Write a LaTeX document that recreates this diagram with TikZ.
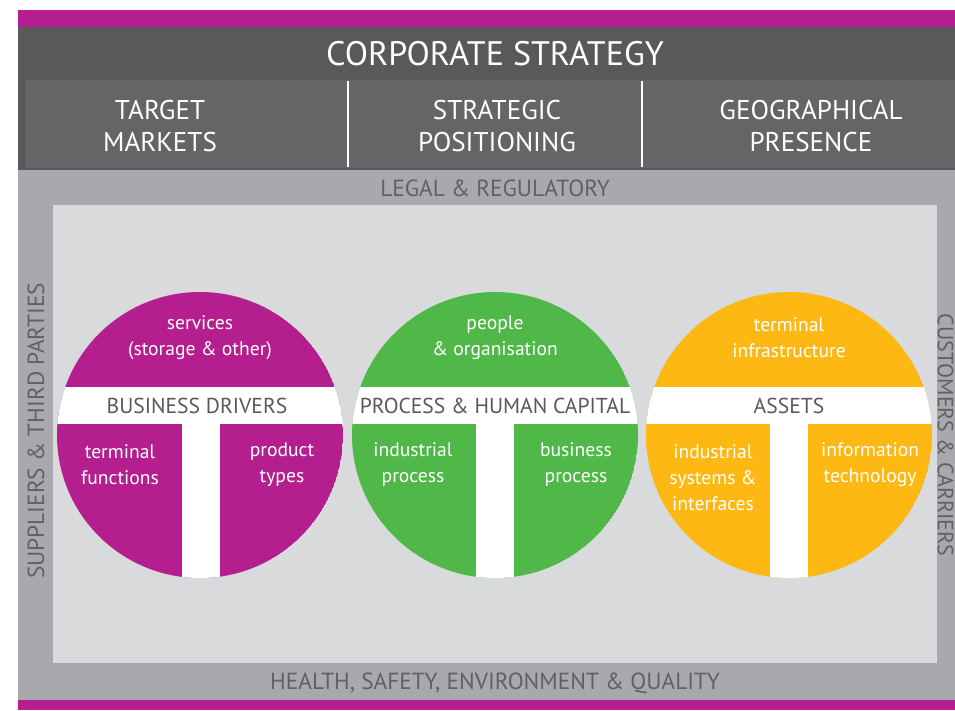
\documentclass[tikz,border=0pt]{standalone}
\usepackage{fontspec}
\setmainfont{PT Sans}
\newfontfamily\headfont{PT Sans}

\definecolor{barmagenta}{RGB}{180,30,142}
\definecolor{headdark}{RGB}{88,89,91}
\definecolor{headmid}{RGB}{100,101,103}
\definecolor{framegray}{RGB}{167,169,172}
\definecolor{panelgray}{RGB}{217,218,220}
\definecolor{labelgray}{RGB}{96,97,100}
\definecolor{drivers}{RGB}{180,30,142}
\definecolor{capital}{RGB}{80,184,72}
\definecolor{assets}{RGB}{253,184,19}

\tikzset{
	headtext/.style={text=white,inner sep=0pt,align=center,font=\headfont\fontsize{20.3}{23.5}\selectfont},
	sidetext/.style={text=labelgray,inner sep=0pt,font=\headfont\fontsize{17.5}{19}\selectfont},
	bandtext/.style={text=headdark,inner sep=0pt,font=\fontsize{16.2}{18}\selectfont},
	intext/.style={text=white,inner sep=0pt,align=center,font=\fontsize{14.7}{19.5}\selectfont}
}

\begin{document}
\begin{tikzpicture}[x=0.75pt,y=0.75pt,yscale=-1,xscale=1]
	\useasboundingbox (0,0) rectangle (955,710);
	\fill [white] (0,0) rectangle (955,710);
	% header
	\fill [barmagenta] (18,10) rectangle (955,27);
	\fill [headdark] (18,27) rectangle (955,170);
	\fill [headmid] (26,80) rectangle (955,168);
	\draw [white,line width=1.2pt] (348,81) -- (348,167);
	\draw [white,line width=1.2pt] (642,81) -- (642,167);
	% frame and panel
	\fill [framegray] (18,170) rectangle (955,700);
	\fill [panelgray] (53,205) rectangle (937,663);
	\fill [barmagenta] (18,700) rectangle (955,710);
	% circles
	\begin{scope}
		\clip (200,435) circle (143);
		\fill [drivers] (200,435) circle (143);
		\fill [white] (50,387) rectangle (350,424);
		\fill [white] (182,424) rectangle (220,590);
	\end{scope}
	\begin{scope}
		\clip (495,435) circle (143);
		\fill [capital] (495,435) circle (143);
		\fill [white] (345,387) rectangle (645,424);
		\fill [white] (476,424) rectangle (514,590);
	\end{scope}
	\begin{scope}
		\clip (789,435) circle (143);
		\fill [assets] (789,435) circle (143);
		\fill [white] (639,387) rectangle (939,424);
		\fill [white] (770,424) rectangle (808,590);
	\end{scope}
	% texts
	\node [headtext,font=\headfont\fontsize{25.5}{28}\selectfont] (strategy) at (495,54) {CORPORATE STRATEGY};
	\node [headtext] (markets) at (160,126) {TARGET\\MARKETS};
	\node [headtext] (positioning) at (497,126) {STRATEGIC\\POSITIONING};
	\node [headtext] (presence) at (811,126) {GEOGRAPHICAL\\PRESENCE};
	\node [sidetext] (legal) at (495,188) {LEGAL \& REGULATORY};
	\node [sidetext] (health) at (495,683) {HEALTH, SAFETY, ENVIRONMENT \& QUALITY};
	\node [sidetext,rotate=90] (suppliers) at (36,431) {SUPPLIERS \& THIRD PARTIES};
	\node [sidetext,rotate=-90,font=\headfont\fontsize{16.5}{18}\selectfont] (customers) at (945.5,435) {CUSTOMERS \& CARRIERS};
	\node [bandtext] (drv) at (197,406) {BUSINESS DRIVERS};
	\node [bandtext] (cap) at (495,406) {PROCESS \& HUMAN CAPITAL};
	\node [bandtext] (ast) at (789,406) {ASSETS};
	\node [intext] (services) at (200,338) {services\\(storage \& other)};
	\node [intext] (functions) at (120,465) {terminal\\functions};
	\node [intext] (products) at (282,465) {product\\types};
	\node [intext] (people) at (495,338) {people\\\& organisation};
	\node [intext] (industrial) at (413,465) {industrial\\process};
	\node [intext] (business) at (576,465) {business\\process};
	\node [intext] (infra) at (789,338) {terminal\\infrastructure};
	\node [intext] (systems) at (713,478) {industrial\\systems \&\\interfaces};
	\node [intext] (it) at (870,465) {information\\technology};
\end{tikzpicture}
\end{document}
